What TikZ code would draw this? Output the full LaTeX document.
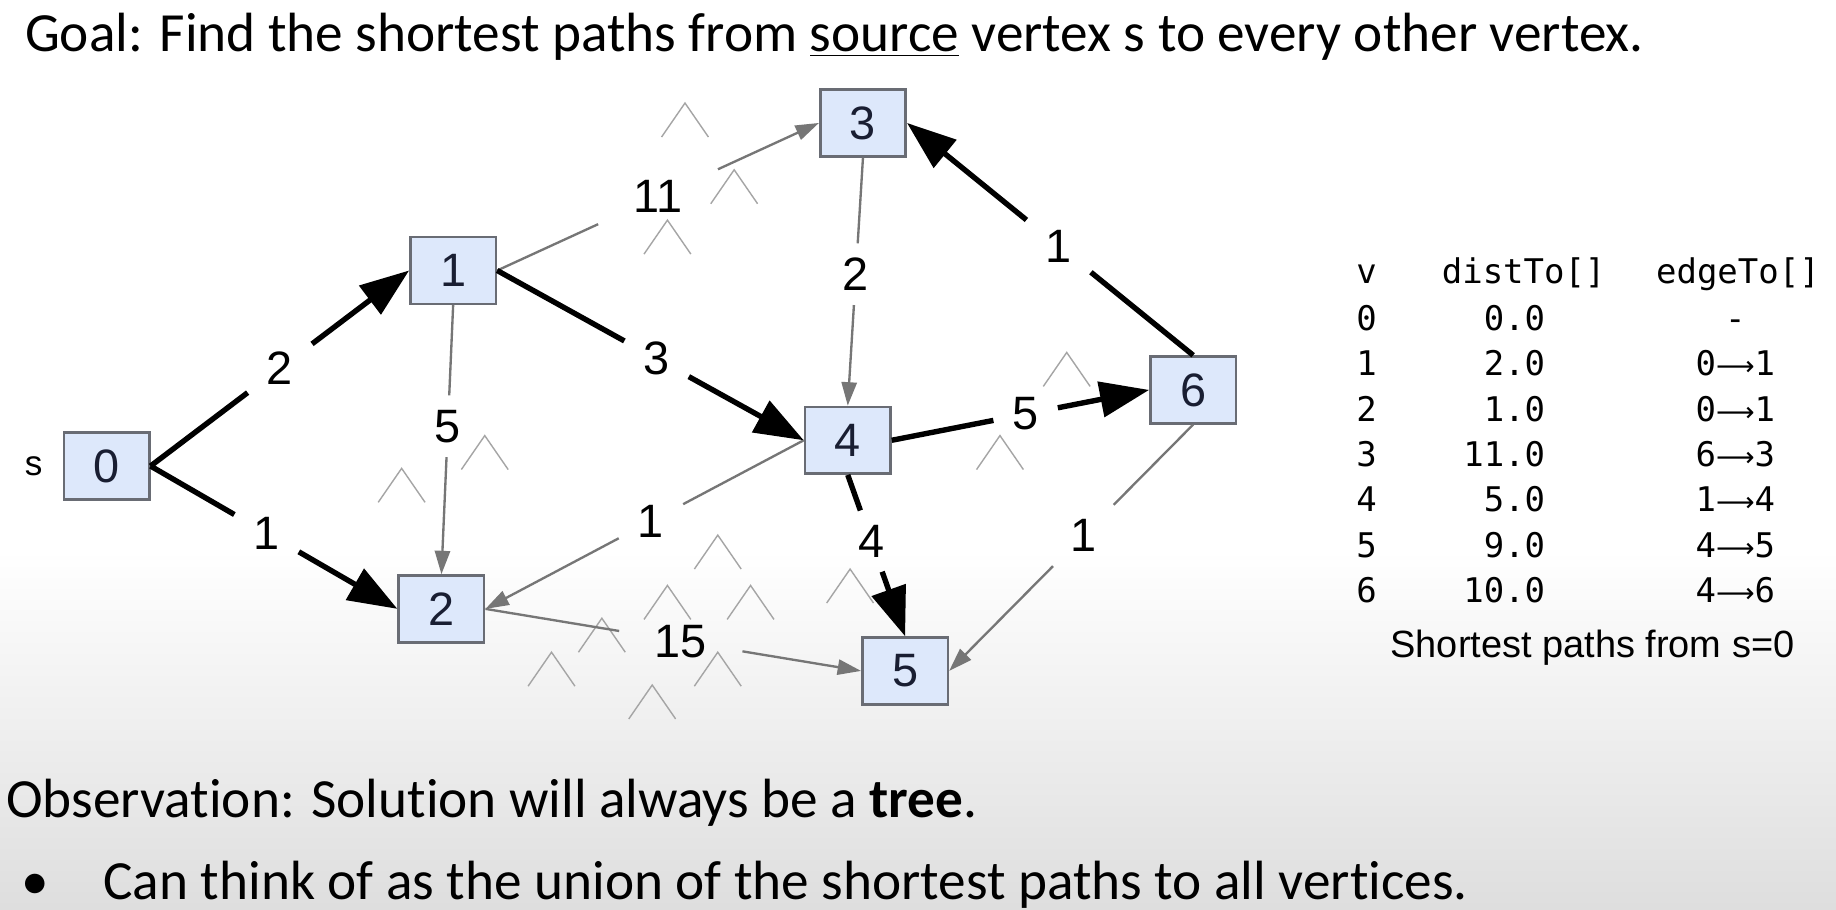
\documentclass[tikz,border=0pt]{standalone}
\usepackage{fontspec}
\setmainfont[Ligatures=NoCommon]{Carlito}
\newfontfamily\arialfont{Liberation Sans}
\newfontfamily\monofont{DejaVu Sans Mono}
\newfontfamily\symfont{DejaVu Sans}
\usetikzlibrary{arrows.meta, positioning}
\definecolor{VertexFill}{RGB}{221,232,251}
\definecolor{VertexLine}{RGB}{105,108,116}
\definecolor{VertexText}{RGB}{25,30,50}
\definecolor{EdgeGray}{RGB}{118,118,118}
\definecolor{ChevGray}{RGB}{165,165,165}
\newcommand{\tblarrow}{{\symfont\fontsize{11.5}{11.5}\selectfont ⟶}}

\begin{document}
\begin{tikzpicture}[x=0.5pt, y=-0.5pt,
  vertex/.style={draw=VertexLine, fill=VertexFill, line width=1.1pt,
    minimum width=36.5pt, minimum height=28.5pt, inner sep=0pt,
    font=\arialfont\fontsize{20}{20}\selectfont, text=VertexText},
  wlab/.style={font=\arialfont\fontsize{20}{20}\selectfont,
    inner xsep=8pt, inner ysep=6pt},
  treeline/.style={line width=2.3pt, black},
  treehead/.style={-{Triangle[length=21pt, width=15pt]}},
  grayline/.style={line width=1pt, EdgeGray},
  grayhead/.style={-{Triangle[length=10pt, width=6.5pt]}},
  chev/.style={ChevGray, line width=0.6pt},
  mono/.style={font=\monofont\fontsize{14.5}{14.5}\selectfont, inner sep=0pt},
  slide/.style={font=\fontsize{23.6}{24}\selectfont, inner sep=0pt}
]

  % Slide background
  \fill[white] (0,0) rectangle (1568,777);
  \shade[top color=white, bottom color=black!13]
        (0,470) rectangle (1568,777);
  \useasboundingbox (0,0) rectangle (1568,777);

  % Title
  \node[slide, anchor=base west] (goal) at (21,44)
        {Goal: Find the shortest paths from \underline{source} vertex s to every other vertex.};

  % Pen marks
  \foreach \cx/\cy in {585/88, 627/145, 570/188, 414/372, 343/400,
                       613/457, 911/301, 854/372, 726/486, 570/500,
                       641/500, 514/528, 471/557, 613/557, 557/585}
    \draw[chev] (\cx-20,\cy+29) -- (\cx,\cy) -- (\cx+20,\cy+29);

  % Vertices
  \node[vertex] (n0) at (91,398) {0};
  \node[vertex] (n1) at (387,231) {1};
  \node[vertex] (n2) at (377,520) {2};
  \node[vertex] (n3) at (737,105) {3};
  \node[vertex] (n4) at (724,376) {4};
  \node[vertex] (n5) at (773,573) {5};
  \node[vertex] (n6) at (1019,333) {6};

  \node[font=\arialfont\fontsize{15}{15}\selectfont, left=5pt of n0] (src) {s};

  % Edges not in the tree
  \foreach \a/\b/\p/\w/\xs [count=\i] in {n1.east/n3.west/.5/11/15pt,
        n1.south/n2.north/.45/5/8pt, n3.south/n4.north/.47/2/8pt,
        n4.west/n2.east/.48/1/8pt, n2.east/n5.west/.52/15/15pt,
        n6.south/n5.east/.45/1/8pt}{
    \path (\a) -- node[wlab, inner xsep=\xs, pos=\p] (g\i) {\w} (\b);
    \draw[grayline] (\a) -- (g\i);
    \draw[grayline, grayhead] (g\i) -- (\b);
  }

  % Shortest-paths tree
  \foreach \a/\b/\p/\w [count=\i] in {n0.east/n1.west/.5/2,
        n0.east/n2.west/.47/1, n1.east/n4.west/.52/3,
        n4.east/n6.west/.52/5, n6.north/n3.east/.47/1,
        n4.south/n5.north/.41/4}{
    \path (\a) -- node[wlab, pos=\p] (t\i) {\w} (\b);
    \draw[treeline] (\a) -- (t\i);
    \draw[treeline, treehead] (t\i) -- (\b);
  }

  % Table
  \node[mono, anchor=base west] (hv) at (1158,242) {v};
  \node[mono, anchor=base west] (hd) at (1231,242) {distTo[]};
  \node[mono, anchor=base west] (he) at (1414,242) {edgeTo[]};
  \foreach \v/\d/\e in {0/0.0/-, 1/2.0/0\tblarrow 1, 2/1.0/0\tblarrow 1,
                        3/11.0/6\tblarrow 3, 4/5.0/1\tblarrow 4,
                        5/9.0/4\tblarrow 5, 6/10.0/4\tblarrow 6}{
    \node[mono, anchor=base west] (v\v) at (1158,282+38.8*\v) {\v};
    \node[mono, anchor=base east] (d\v) at (1320,282+38.8*\v) {\d};
    \node[mono, anchor=base] (e\v) at (1482,282+38.8*\v) {\e};
  }
  \node[font=\arialfont\fontsize{16.2}{16.2}\selectfont] (cap) at (1360,553)
        {Shortest paths from s=0};

  % Observation
  \node[slide, anchor=base west] (obs) at (5,698)
        {Observation: Solution will always be a \textbf{tree}.};
  \node[slide, anchor=base] (bul) at (30,768) {\textbullet};
  \node[slide, anchor=base west] (union) at (88,768)
        {Can think of as the union of the shortest paths to all vertices.};

\end{tikzpicture}
\end{document}
